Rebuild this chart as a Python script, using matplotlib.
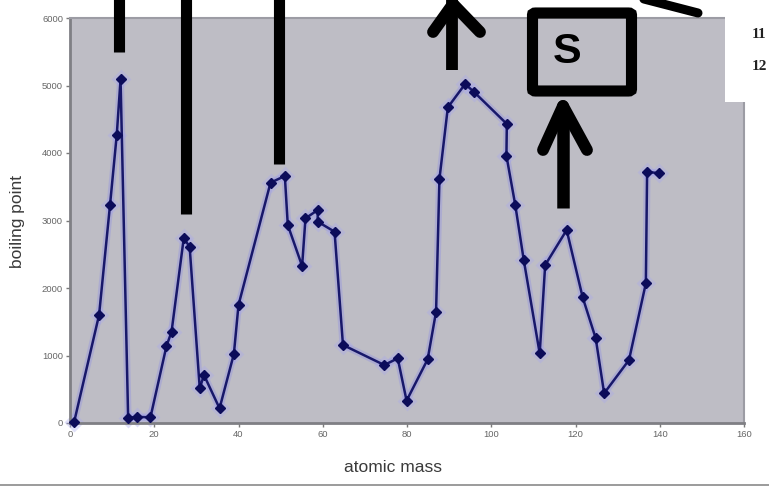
import matplotlib
matplotlib.use("Agg")
import matplotlib.pyplot as plt
from matplotlib.lines import Line2D
from matplotlib.patches import Rectangle, FancyBboxPatch

# ---- data ----
atomic_mass = [1.0, 6.9, 9.5, 11.1, 12.0, 13.8, 15.9, 19.1, 22.9, 24.1, 27.0, 28.4,
               30.8, 31.8, 35.5, 38.9, 40.0, 47.6, 51.0, 51.7, 55.1, 55.9, 58.8, 58.8,
               62.8, 64.8, 74.6, 77.8, 79.9, 84.9, 86.9, 87.7, 89.7, 93.8, 96.0, 103.7,
               103.6, 105.7, 107.7, 111.5, 112.8, 117.9, 121.7, 124.8, 126.8, 132.7,
               136.7, 137.0, 139.8]
boiling_point = [20, 1600, 3230, 4270, 5090, 77, 90, 85, 1140, 1350, 2736, 2612,
                 514, 711, 217, 1022, 1748, 3560, 3659, 2933, 2326, 3032, 3155, 2983,
                 2834, 1156, 859, 958, 331, 943, 1650, 3615, 4677, 5022, 4899, 4430,
                 3960, 3230, 2420, 1032, 2340, 2859, 1862, 1254, 440, 933,
                 2070, 3723, 3699]
x_ticks = [0, 20, 40, 60, 80, 100, 120, 140, 160]
y_ticks = [0, 1000, 2000, 3000, 4000, 5000, 6000]
x_label = "atomic mass"
y_label = "boiling point"

W, H = 769, 487
fig = plt.figure(figsize=(W / 100, H / 100), dpi=100)
fig.patch.set_facecolor("white")

def fx(px):
    return px / W

def fy(py):
    return 1 - py / H

ax = fig.add_axes([fx(70), fy(423), fx(744) - fx(70), fy(18) - fy(423)])
ax.set_facecolor("#bebdc5")
ax.set_xlim(0, 160)
ax.set_ylim(0, 6000)
ax.set_xticks(x_ticks)
ax.set_yticks(y_ticks)
ax.tick_params(axis="both", labelsize=6.8, labelcolor="#666666", color="#7a7a7a",
               length=3, width=1, direction="out", pad=2)
for lab in ax.get_xticklabels() + ax.get_yticklabels():
    lab.set_family("Liberation Sans")
for s in ["left", "bottom"]:
    ax.spines[s].set_color("#7f7f84")
    ax.spines[s].set_linewidth(2)
for s in ["top", "right"]:
    ax.spines[s].set_color("#9c9ca4")
    ax.spines[s].set_linewidth(1.5)

# halo + series
ax.plot(atomic_mass, boiling_point, color="#8c8ce6", lw=5, alpha=0.35,
        solid_joinstyle="round", zorder=2, clip_on=False)
ax.plot(atomic_mass, boiling_point, ls="none", marker="D", ms=10, color="#a8a8f0",
        alpha=0.35, mec="none", zorder=2, clip_on=False)
ax.plot(atomic_mass, boiling_point, color="#18186a", lw=1.8, marker="D", ms=5.5,
        mfc="#0c0c5a", mec="#0c0c5a", zorder=3, clip_on=False)

fig.text(fx(18), fy(221), y_label, rotation=90, ha="center", va="center",
         fontsize=12.5, color="#3a3a3a", family="Liberation Sans")
fig.text(fx(393), fy(467), x_label, ha="center", va="center",
         fontsize=12.5, color="#3a3a3a", family="Liberation Sans")

# ---- overlaid annotations (figure pixel positions) ----
def seg(p0, p1, lw=8.5, cap="round", z=10):
    fig.add_artist(Line2D([fx(p0[0]), fx(p1[0])], [fy(p0[1]), fy(p1[1])],
                          color="black", lw=lw, solid_capstyle=cap, zorder=z))

# vertical bars from the top
seg((118.5, -5), (118.5, 52), lw=8, cap="butt")
seg((186, -5), (186, 214), lw=8, cap="butt")
seg((279, -5), (279, 164), lw=8, cap="butt")

# arrow 1
seg((452, 70), (452, -5), lw=8.5, cap="butt")
seg((433, 32), (453, 4), lw=8.5)
seg((480, 32), (453, 4), lw=8.5)

# arrow 2
seg((563, 208), (563, 108), lw=9, cap="butt")
seg((543, 150), (563, 106), lw=8.5)
seg((587, 150), (563, 106), lw=8.5)

# diagonal stroke top right
seg((640, -2), (698, 13), lw=6.5)

# box with S
box = FancyBboxPatch((fx(532.5), fy(91)), fx(631.5) - fx(532.5), fy(13) - fy(91),
                     boxstyle="round,pad=0,rounding_size=0.004", transform=fig.transFigure,
                     fill=False, ec="black", lw=8, zorder=10)
fig.add_artist(box)
fig.text(fx(567.5), fy(52), "S", ha="center", va="center", fontsize=31,
         fontweight="bold", family="Liberation Sans", color="black", zorder=11)

# white pasted panel at top right
fig.add_artist(Rectangle((fx(725), fy(102)), fx(W + 5) - fx(725), fy(0) - fy(102),
                         transform=fig.transFigure, fc="white", ec="none", zorder=9))
fig.text(fx(752), fy(35), "11", ha="left", va="center", fontsize=11, fontweight="bold",
         family="Liberation Serif", color="#222222", zorder=11)
fig.text(fx(752), fy(67), "12", ha="left", va="center", fontsize=11, fontweight="bold",
         family="Liberation Serif", color="#222222", zorder=11)

# bottom border line
fig.add_artist(Line2D([0, 1], [fy(485), fy(485)], color="#8a8a8a", lw=1.2, zorder=5))

fig.savefig("out.png", dpi=100, facecolor="white")
